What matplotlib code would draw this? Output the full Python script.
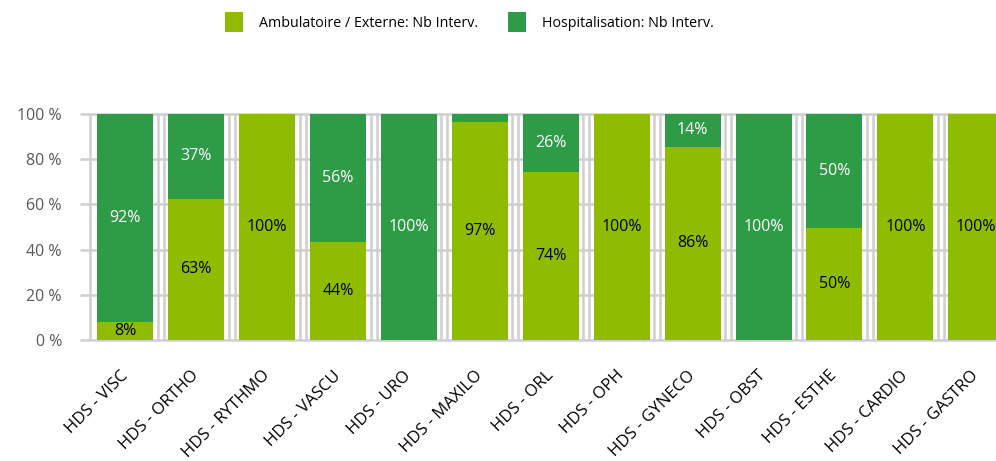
import matplotlib
matplotlib.use("Agg")
import matplotlib.pyplot as plt
from matplotlib.patches import Patch

categories = ["HDS - VISC", "HDS - ORTHO", "HDS - RYTHMO", "HDS - VASCU", "HDS - URO",
              "HDS - MAXILO", "HDS - ORL", "HDS - OPH", "HDS - GYNECO", "HDS - OBST",
              "HDS - ESTHE", "HDS - CARDIO", "HDS - GASTRO"]
ambulatoire = [8, 62.6, 100, 43.5, 0, 96.6, 74.3, 100, 85.5, 0, 49.5, 100, 100]
hospitalisation = [92, 37.4, 0, 56.5, 100, 3.4, 25.7, 0, 14.5, 100, 50.5, 0, 0]
yticks = [0, 20, 40, 60, 80, 100]
ytick_labels = ["0 %", "20 %", "40 %", "60 %", "80 %", "100 %"]
series_names = ["Ambulatoire / Externe: Nb Interv.", "Hospitalisation: Nb Interv."]

C_AMB = "#8FBC00"
C_HOS = "#2E9B47"
GRID = "#CFCFCF"

plt.rcParams["font.family"] = ["Open Sans", "DejaVu Sans"]

W, H = 996, 461
fig = plt.figure(figsize=(W / 100, H / 100), dpi=100)
left_px, right_px = 80, 1021.6
bot_px, top_px = 340, 114
ax = fig.add_axes([left_px / W, (H - bot_px) / H, (right_px - left_px) / W, (bot_px - top_px) / H])

n = len(categories)
x = list(range(n))
bw = 0.79

# grid
for y in yticks:
    ax.hlines(y, -0.64, n - 0.36, color=GRID, lw=1.8, zorder=0, clip_on=False)
ax.vlines(-0.5, 0, 100, color=GRID, lw=1.8, zorder=0, clip_on=False)
for i in range(n):
    b = i + 0.5
    for d in (-0.042, 0.042):
        ax.vlines(b + d, 0, 100, color=GRID, lw=1.8, zorder=0, clip_on=False)

ax.bar(x, ambulatoire, width=bw, color=C_AMB, zorder=2, label=series_names[0])
ax.bar(x, hospitalisation, width=bw, bottom=ambulatoire, color=C_HOS, zorder=2, label=series_names[1])

for i in range(n):
    a, h = ambulatoire[i], hospitalisation[i]
    if a >= 5:
        ax.text(i, a / 2, "{:.0f}%".format(a), ha="center", va="center", fontsize=11.5, color="black", zorder=3)
    if h >= 5:
        ax.text(i, a + h / 2, "{:.0f}%".format(h), ha="center", va="center", fontsize=11.5, color="white", zorder=3)

ax.set_xlim(-0.64, n - 0.36)
ax.set_ylim(0, 100)
ax.set_yticks(yticks)
ax.set_yticklabels(ytick_labels, fontsize=11.5, color="#595959")
ax.set_xticks(x)
ax.set_xticklabels(categories, rotation=45, ha="right", va="center", rotation_mode="anchor", fontsize=12, color="black")
ax.tick_params(axis="both", length=0)
ax.tick_params(axis="y", pad=13)
ax.tick_params(axis="x", pad=24)
for s in ax.spines.values():
    s.set_visible(False)

handles = [Patch(facecolor=C_AMB, edgecolor="none"), Patch(facecolor=C_HOS, edgecolor="none")]
fig.legend(handles, series_names, loc="center", bbox_to_anchor=(469 / W, 1 - 22 / H), ncol=2,
           frameon=False, fontsize=10.3, handlelength=1.26, handleheight=1.75, handletextpad=1.12,
           columnspacing=2.1)

fig.savefig("out.png", dpi=100)
